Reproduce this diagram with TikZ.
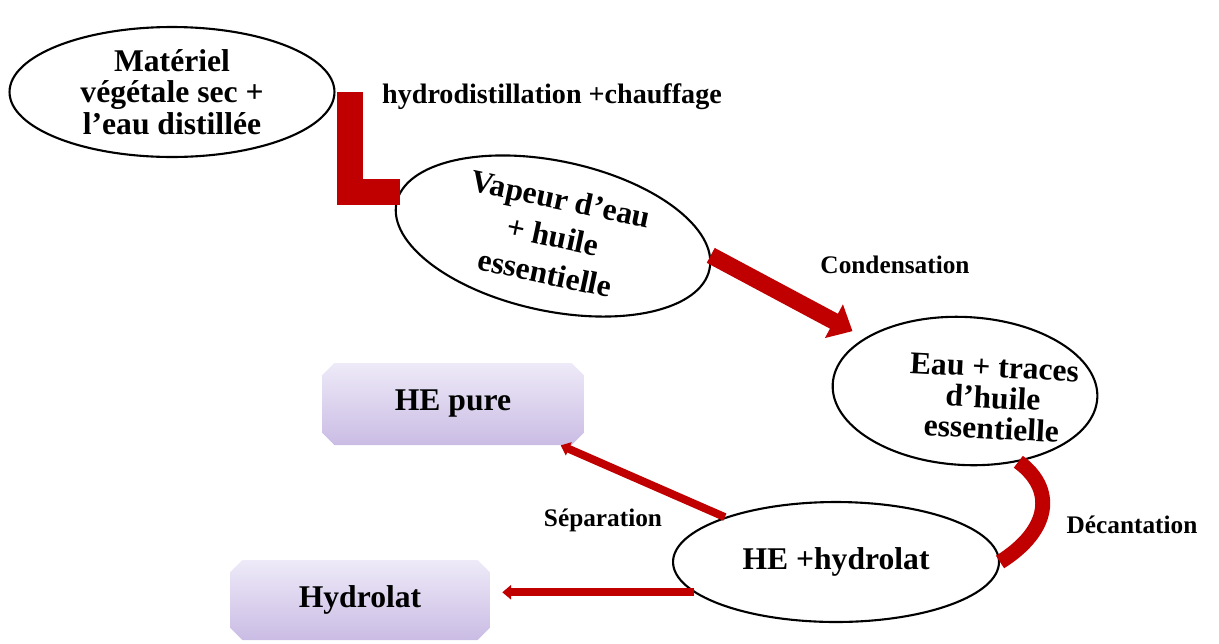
\documentclass[tikz,border=0pt]{standalone}
\usepackage{fontspec}
\setmainfont{Liberation Serif}
\usetikzlibrary{shapes.geometric, shapes.misc, arrows.meta, positioning}
\definecolor{rougefonce}{RGB}{192, 0, 0}
\definecolor{lavclair}{RGB}{238, 234, 248}
\definecolor{lavfonce}{RGB}{202, 188, 228}

\begin{document}
\begin{tikzpicture}[x=0.02cm, y=-0.02cm,
  bulle/.style={ellipse, draw, line width=1.2pt, align=center, inner sep=0pt,
    font=\bfseries\fontsize{18}{18}\selectfont},
  texte/.style={align=center, inner sep=0pt, font=\bfseries\fontsize{18}{17.5}\selectfont},
  etiquette/.style={inner sep=1pt, font=\bfseries\fontsize{14.4}{16}\selectfont},
  plaque/.style={chamfered rectangle, chamfered rectangle xsep=3.5pt, chamfered rectangle ysep=3.5pt,
    top color=lavclair, bottom color=lavfonce, minimum width=5.24cm, minimum height=1.64cm,
    font=\bfseries\fontsize{18}{20}\selectfont},
  barre/.style={draw=rougefonce, line width=14.7pt},
  grosfleche/.style={draw=rougefonce, line width=9.6pt, -{Triangle[width=21pt, length=12pt]}},
  fleche/.style={draw=rougefonce, line width=4.5pt, -{Triangle[width=8pt, length=5pt]}}
]
\useasboundingbox (0,0) rectangle (1219,643);

% etapes
\node[bulle, minimum width=6.5cm, minimum height=2.6cm] (A) at (172,92)
  {Matériel\\végétale sec +\\l’eau distillée};
\node[bulle, rotate=-12, minimum width=6.4cm, minimum height=3cm,
  font=\bfseries\fontsize{18}{21.5}\selectfont] (B) at (553,236)
  {Vapeur d’eau\\+ huile\\essentielle};
\node[bulle, rotate=-3, minimum width=5.3cm, minimum height=2.96cm] (C) at (965,391) {};
\node[texte, rotate=-3] (Ctexte) at (993,398) {Eau + traces\\d’huile\\essentielle};
\node[bulle, minimum width=6.52cm, minimum height=2.4cm] (D) at (836,562) {HE +hydrolat};

% produits
\node[plaque] (pure) at (453,404) {HE pure};
\node[plaque, minimum width=5.2cm, minimum height=1.6cm] (hydro) at (360,600) {Hydrolat};

% liaisons
\coordinate (coude) at ([xshift=0.29cm]A.east);
\draw[barre] (coude) |- (B.176);
\draw[grosfleche, shorten >=8pt] (B.5) -- (C.155);
\draw[rougefonce, line width=8.5pt] (C.-50) .. controls +(37,27) and +(51,-32) .. (D.east);
\draw[fleche] (D.158) -- (pure.-21);
\draw[fleche, shorten >=6.8pt] (D.192) -- (hydro.east |- D.192);

% operations
\node[etiquette, font=\bfseries\fontsize{16}{18}\selectfont] (distil) at (552,97)
  {hydrodistillation +chauffage};
\node[etiquette] (conden) at (895,265) {Condensation};
\node[etiquette] (decant) at (1132,525) {Décantation};
\node[etiquette] (separ) at (603,520) {Séparation};
\end{tikzpicture}
\end{document}
